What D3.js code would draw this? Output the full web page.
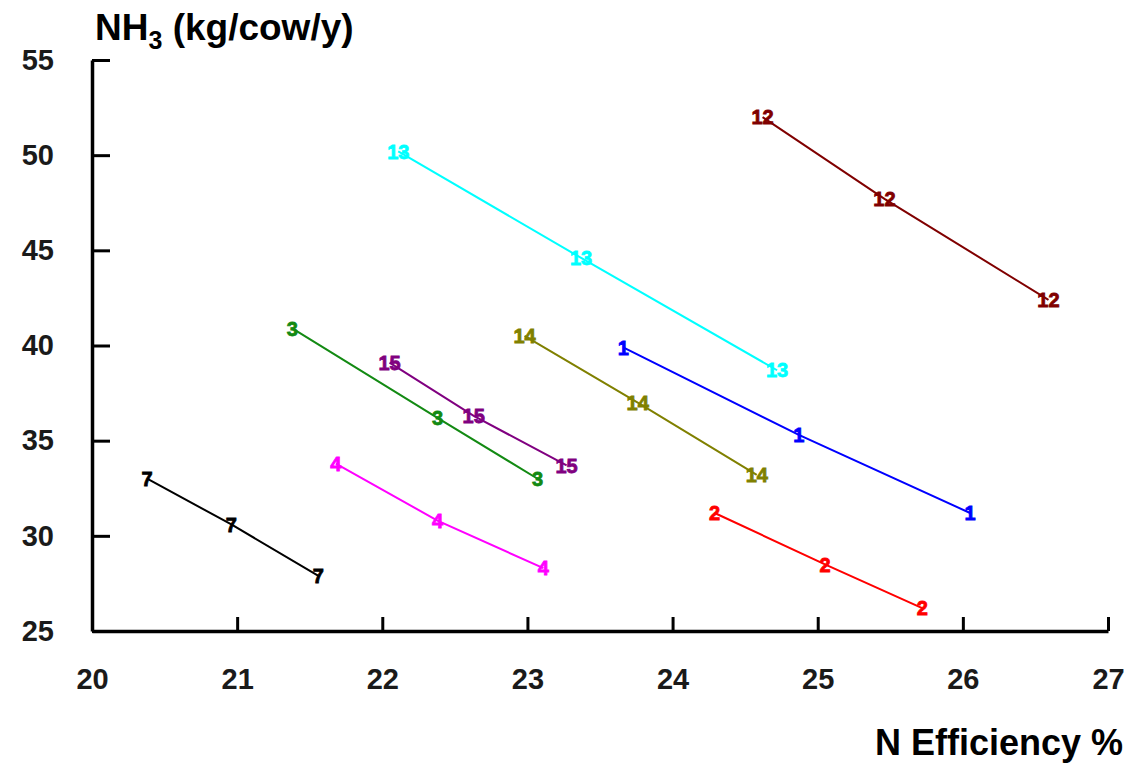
<!DOCTYPE html>
<html>
<head>
<meta charset="utf-8">
<script src="https://cdn.jsdelivr.net/npm/d3@7"></script>
<style>
  body { margin: 0; background: #fff; }
  svg { display: block; font-family: "Liberation Sans", Arial, sans-serif; }
</style>
</head>
<body>
<div id="vis-container"></div>
<script>
// data
const seriesIds = ["7", "4", "3", "15", "14", "1", "13", "12", "2"];
const nEfficiency = [
  [20.38, 20.96, 21.56],
  [21.68, 22.38, 23.11],
  [21.38, 22.38, 23.07],
  [22.05, 22.63, 23.27],
  [22.98, 23.76, 24.58],
  [23.66, 24.87, 26.05],
  [22.11, 23.37, 24.72],
  [24.62, 25.46, 26.59],
  [24.29, 25.05, 25.72]
];
const nh3 = [
  [33.0, 30.6, 27.9],
  [33.8, 30.8, 28.3],
  [40.9, 36.2, 33.0],
  [39.1, 36.3, 33.7],
  [40.5, 37.0, 33.2],
  [39.9, 35.3, 31.2],
  [50.2, 44.6, 38.7],
  [52.0, 47.7, 42.4],
  [31.2, 28.5, 26.2]
];
const xTicks = [20, 21, 22, 23, 24, 25, 26, 27];
const yTicks = [25, 30, 35, 40, 45, 50, 55];

const colors = {
  "1": "#0000ff", "2": "#ff0000", "3": "#138a13", "4": "#ff00ff",
  "7": "#000000", "12": "#800000", "13": "#00ffff", "14": "#808000",
  "15": "#800080"
};

const width = 1142, height = 763;

const svg = d3.select("#vis-container")
  .append("svg")
    .attr("width", width)
    .attr("height", height);

const x = d3.scaleLinear().domain([20, 27]).range([92, 1108]);
const y = d3.scaleLinear().domain([25, 55]).range([631, 60]);

// axes with inward ticks
const xAxis = svg.append("g")
  .attr("transform", `translate(0, ${y(25)})`)
  .call(d3.axisBottom(x).tickValues(xTicks).tickFormat(d3.format("d"))
    .tickSizeInner(-14).tickSizeOuter(0).tickPadding(37));

const yAxis = svg.append("g")
  .attr("transform", `translate(${x(20)}, 0)`)
  .call(d3.axisLeft(y).tickValues(yTicks).tickFormat(d3.format("d"))
    .tickSizeInner(-18).tickSizeOuter(0).tickPadding(38));

[xAxis, yAxis].forEach(a => {
  a.select(".domain").attr("stroke", "#000").attr("stroke-width", 3.5);
  a.selectAll(".tick line").attr("stroke", "#000").attr("stroke-width", 3);
  a.selectAll(".tick text")
    .attr("fill", "#1a1a1a")
    .style("font-size", "29px")
    .style("font-weight", "bold")
    .style("font-family", "'Liberation Sans', Arial, sans-serif");
});

// build series
const series = seriesIds.map((id, i) => ({
  id: id,
  points: nEfficiency[i].map((v, j) => ({ x: v, y: nh3[i][j] }))
}));

const line = d3.line().x(d => x(d.x)).y(d => y(d.y));

svg.selectAll(".series-line")
  .data(series)
  .enter()
    .append("path")
    .attr("class", "series-line")
    .attr("d", d => line(d.points))
    .attr("fill", "none")
    .attr("stroke", d => colors[d.id])
    .attr("stroke-width", 2);

// point labels (series number drawn at each point)
series.forEach(s => {
  svg.selectAll(null)
    .data(s.points)
    .enter()
      .append("text")
      .attr("x", d => x(d.x))
      .attr("y", d => y(d.y))
      .attr("dy", "0.36em")
      .attr("text-anchor", "middle")
      .attr("fill", colors[s.id])
      .attr("stroke", colors[s.id])
      .attr("stroke-width", 0.8)
      .style("font-size", "20px")
      .style("font-weight", "bold")
      .text(s.id);
});

// axis titles
const yTitle = svg.append("text")
  .attr("x", 95)
  .attr("y", 40)
  .style("font-size", "37px")
  .style("font-weight", "bold")
  .attr("fill", "#000");
yTitle.append("tspan").text("NH");
yTitle.append("tspan").text("3").style("font-size", "25px").attr("dy", 9);
yTitle.append("tspan").text(" (kg/cow/y)").attr("dy", -9);

svg.append("text")
  .attr("x", 1123)
  .attr("y", 755)
  .attr("text-anchor", "end")
  .style("font-size", "36px")
  .style("font-weight", "bold")
  .attr("fill", "#000")
  .text("N Efficiency %");
</script>
</body>
</html>
